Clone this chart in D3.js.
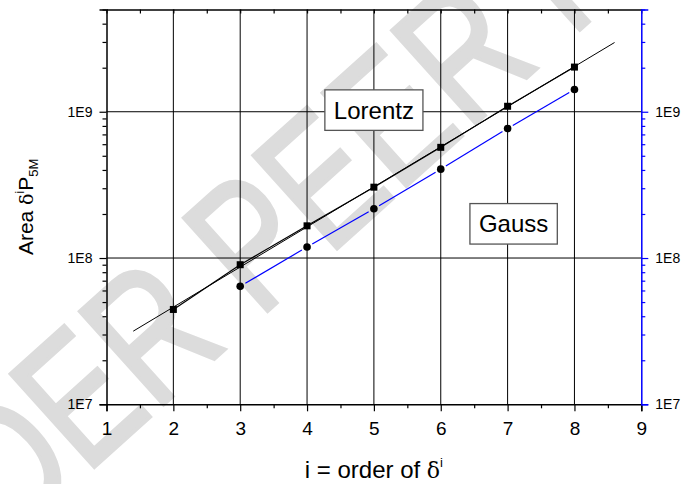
<!DOCTYPE html>
<html>
<head>
<meta charset="utf-8">
<script src="https://cdn.jsdelivr.net/npm/d3@7"></script>
<style>
  body { margin: 0; background: #fff; }
  svg { font-family: "Liberation Sans", Arial, sans-serif; }
</style>
</head>
<body>
<svg id="chart" width="682" height="484"></svg>
<script>
// data
const orders = [2, 3, 4, 5, 6, 7, 8];
const lorentz = [4.45e7, 9.0e7, 1.66e8, 3.05e8, 5.71e8, 1.09e9, 2.02e9];
const gaussOrders = [3, 4, 5, 6, 7, 8];
const gauss = [6.4e7, 1.19e8, 2.17e8, 4.05e8, 7.69e8, 1.42e9];
const fitRange = [1.4, 8.6];
const xTicks = [1, 2, 3, 4, 5, 6, 7, 8, 9];
const xMinor = [1.5, 2.5, 3.5, 4.5, 5.5, 6.5, 7.5, 8.5];
const yTicks = [1e7, 1e8, 1e9];
const yTickLabels = ["1E7", "1E8", "1E9"];

const svg = d3.select("#chart");
const width = +svg.attr("width");
const height = +svg.attr("height");
const margin = { top: 9.5, right: 40.7, bottom: 79.7, left: 106.5 };

const x = d3.scaleLinear()
  .domain([1, 9])
  .range([margin.left, width - margin.right]);

const y = d3.scaleLog()
  .domain([1e7, 5e9])
  .range([height - margin.bottom, margin.top]);

const x0 = margin.left, x1 = width - margin.right;
const y0 = height - margin.bottom, y1 = margin.top;

// minor y ticks 2..9 per decade
const yMinor = [];
[1e7, 1e8, 1e9].forEach(d => {
  for (let k = 2; k <= 9; k++) if (d * k <= 5e9) yMinor.push(d * k);
});

// watermark
svg.append("text")
  .attr("transform", "translate(-140,678) rotate(-42) scale(1,1.3)")
  .attr("font-size", 140)
  .attr("fill", "#dcdcdc")
  .attr("stroke", "#dcdcdc")
  .attr("stroke-width", 3)
  .text("UNDER PEER REVIEW");

// grid lines
svg.append("g")
  .selectAll("line")
  .data(xTicks.slice(1, -1))
  .join("line")
  .attr("x1", d => x(d)).attr("x2", d => x(d))
  .attr("y1", y0).attr("y2", y1)
  .attr("stroke", "#000")
  .attr("stroke-width", 1);

svg.append("g")
  .selectAll("line")
  .data([1e8, 1e9])
  .join("line")
  .attr("x1", x0).attr("x2", x1)
  .attr("y1", d => y(d)).attr("y2", d => y(d))
  .attr("stroke", "#000")
  .attr("stroke-width", 1);

// axes
const fmtY = d => yTickLabels[yTicks.indexOf(d)];

const bottom = svg.append("g")
  .attr("transform", `translate(0,${y0})`)
  .call(d3.axisBottom(x).tickValues(xTicks).tickSize(7).tickPadding(10).tickFormat(d3.format("d")));
bottom.selectAll("text").attr("font-size", 19);

svg.append("g")
  .attr("transform", `translate(0,${y0})`)
  .call(d3.axisBottom(x).tickValues(xMinor).tickSize(4).tickFormat(""))
  .select(".domain").remove();

svg.append("g")
  .attr("transform", `translate(0,${y1})`)
  .call(d3.axisBottom(x).tickValues(xTicks.concat(xMinor)).tickSizeInner(4).tickSizeOuter(0).tickFormat(""));

const left = svg.append("g")
  .attr("transform", `translate(${x0},0)`)
  .call(d3.axisLeft(y).tickValues(yTicks).tickSize(7).tickPadding(7).tickFormat(fmtY));
left.selectAll("text").attr("font-size", 14);

svg.append("g")
  .attr("transform", `translate(${x0},0)`)
  .call(d3.axisLeft(y).tickValues(yMinor).tickSize(4).tickFormat(""))
  .select(".domain").remove();

const right = svg.append("g")
  .attr("transform", `translate(${x1},0)`)
  .call(d3.axisRight(y).tickValues(yTicks).tickSize(7).tickPadding(7).tickFormat(fmtY));
right.selectAll("text").attr("font-size", 14).attr("fill", "#000");
right.selectAll("line, path").attr("stroke", "#0000ff");

svg.append("g")
  .attr("transform", `translate(${x1},0)`)
  .call(d3.axisRight(y).tickValues(yMinor).tickSize(4).tickFormat(""))
  .call(g => g.select(".domain").remove())
  .selectAll("line").attr("stroke", "#0000ff");

svg.selectAll(".domain").attr("stroke-width", 1.5);
svg.selectAll(".tick line").attr("stroke-width", 1.2);

// fit line (linear fit of log10 values)
const lr = orders.map((d, i) => [d, Math.log10(lorentz[i])]);
const mx = d3.mean(lr, d => d[0]), my = d3.mean(lr, d => d[1]);
const slope = d3.sum(lr, d => (d[0] - mx) * (d[1] - my)) / d3.sum(lr, d => (d[0] - mx) ** 2);
const fitVal = t => Math.pow(10, my + slope * (t - mx));

svg.append("line")
  .attr("x1", x(fitRange[0])).attr("y1", y(fitVal(fitRange[0])))
  .attr("x2", x(fitRange[1])).attr("y2", y(fitVal(fitRange[1])))
  .attr("stroke", "#000")
  .attr("stroke-width", 1);

// connecting segments with gaps at symbols
function gapSegments(xs, vs, color, gap) {
  const pts = xs.map((d, i) => [x(d), y(vs[i])]);
  const segs = d3.pairs(pts).map(([a, b]) => {
    const dx = b[0] - a[0], dy = b[1] - a[1];
    const len = Math.hypot(dx, dy);
    const ux = dx / len, uy = dy / len;
    return [a[0] + ux * gap, a[1] + uy * gap, b[0] - ux * gap, b[1] - uy * gap];
  });
  svg.append("g")
    .selectAll("line")
    .data(segs)
    .join("line")
    .attr("x1", d => d[0]).attr("y1", d => d[1])
    .attr("x2", d => d[2]).attr("y2", d => d[3])
    .attr("stroke", color)
    .attr("stroke-width", 1.2);
}

gapSegments(orders, lorentz, "#000", 1);
gapSegments(gaussOrders, gauss, "#0000ff", 6);

// symbols
svg.append("g")
  .selectAll("rect")
  .data(orders)
  .join("rect")
  .attr("x", d => x(d) - 3.5)
  .attr("y", (d, i) => y(lorentz[i]) - 3.5)
  .attr("width", 7)
  .attr("height", 7)
  .attr("fill", "#000");

svg.append("g")
  .selectAll("circle")
  .data(gaussOrders)
  .join("circle")
  .attr("cx", d => x(d))
  .attr("cy", (d, i) => y(gauss[i]))
  .attr("r", 3.8)
  .attr("fill", "#000");

// labels in boxes
function boxLabel(label, cx, cy) {
  const g = svg.append("g").attr("transform", `translate(${x(cx)},${y(cy)})`);
  const rect = g.append("rect").attr("fill", "#fff").attr("stroke", "#555").attr("stroke-width", 1.3);
  const t = g.append("text")
    .attr("text-anchor", "middle")
    .attr("dy", "0.36em")
    .attr("font-size", 24)
    .text(label);
  const w = t.node().getComputedTextLength() + 18;
  rect.attr("x", -w / 2).attr("y", -20).attr("width", w).attr("height", 40.5);
}

boxLabel("Lorentz", 5.0, 1.03e9);
boxLabel("Gauss", 7.09, 1.72e8);

// axis titles
const xt = svg.append("text")
  .attr("x", (x0 + x1) / 2)
  .attr("y", 478)
  .attr("text-anchor", "middle")
  .attr("font-size", 24);
xt.append("tspan").text("i = order of ");
xt.append("tspan").attr("font-family", "DejaVu Serif").attr("font-size", 22).text("δ");
xt.append("tspan").attr("font-size", 13).attr("dy", -11).text("i");

const yt = svg.append("text")
  .attr("transform", `translate(33,${(y0 + y1) / 2}) rotate(-90)`)
  .attr("text-anchor", "middle")
  .attr("font-size", 21);
yt.append("tspan").text("Area ");
yt.append("tspan").attr("font-family", "DejaVu Serif").attr("font-size", 19).text("δ");
yt.append("tspan").attr("font-size", 12).attr("dy", -9).text("i");
yt.append("tspan").attr("dy", 9).text("P");
yt.append("tspan").attr("font-size", 13).attr("dy", 5).text("5M");
</script>
</body>
</html>
